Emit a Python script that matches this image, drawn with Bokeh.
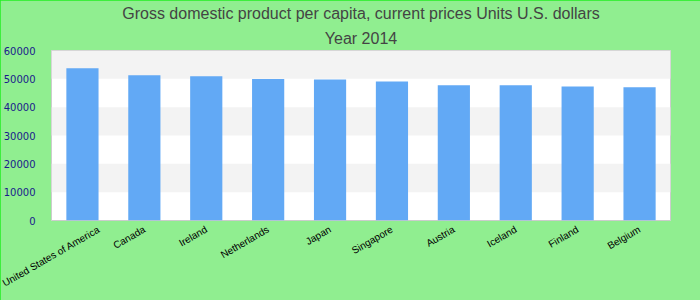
import math
from bokeh.plotting import figure
from bokeh.models import Title, FixedTicker, Range1d
from bokeh.embed import file_html
from bokeh.resources import INLINE

countries = ["United States of America", "Canada", "Ireland", "Netherlands", "Japan",
             "Singapore", "Austria", "Iceland", "Finland", "Belgium"]
gdp = [53700, 51300, 50900, 49900, 49800, 49100, 47700, 47700, 47300, 47000]
y_ticks = [0, 10000, 20000, 30000, 40000, 50000, 60000]
title_line1 = "Gross domestic product per capita, current prices Units U.S. dollars"
title_line2 = "Year 2014"

p = figure(x_range=countries, y_range=Range1d(0, 60000), width=700, height=300,
           output_backend="svg", toolbar_location=None,
           min_border_left=50, min_border_right=30, min_border_top=0, min_border_bottom=80)
p.background_fill_color = "white"
p.border_fill_color = "#90ee90"
p.outline_line_color = "#cccccc"
p.outline_line_width = 1

p.add_layout(Title(text=title_line2, align="center", text_font="Liberation Sans",
                   text_font_size="16px", text_font_style="normal", text_color="#444444",
                   standoff=7, offset=-11), "above")
p.add_layout(Title(text=title_line1, align="center", text_font="Liberation Sans",
                   text_font_size="16px", text_font_style="normal", text_color="#444444",
                   standoff=5, offset=-11), "above")

p.vbar(x=countries, top=gdp, width=0.52, color="#62a9f5", line_color=None)

p.yaxis.ticker = FixedTicker(ticks=y_ticks)
p.yaxis.axis_line_color = None
p.yaxis.major_tick_line_color = None
p.yaxis.minor_tick_line_color = None
p.yaxis.major_label_text_color = "#1a1a8c"
p.yaxis.major_label_text_font = "DejaVu Sans"
p.yaxis.major_label_text_font_size = "10px"
p.yaxis.major_label_standoff = 10

p.xaxis.axis_line_color = None
p.xaxis.major_tick_line_color = None
p.xaxis.major_tick_out = 0
p.xaxis.major_tick_in = 0
p.xaxis.major_label_orientation = math.pi / 6
p.xaxis.major_label_text_font = "Liberation Sans"
p.xaxis.major_label_text_font_size = "10px"
p.xaxis.major_label_text_color = "black"
p.xaxis.major_label_standoff = 8

p.xgrid.grid_line_color = None
p.ygrid.grid_line_color = None
p.ygrid.band_fill_color = "#f3f3f3"
p.ygrid.band_fill_alpha = 1.0

p.styles = {"outline": "1px solid #22ee22", "outline-offset": "-1px"}

open("out.html", "w").write(file_html(p, INLINE))
